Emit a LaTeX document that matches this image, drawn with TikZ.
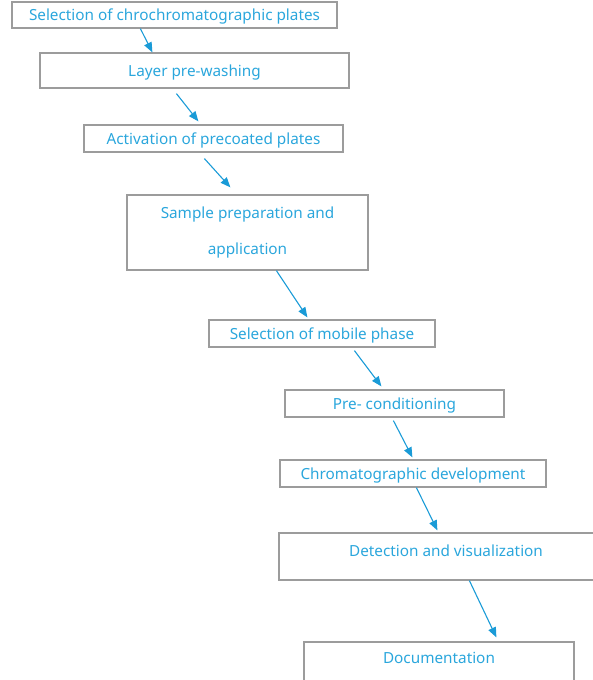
\documentclass[tikz,border=0pt]{standalone}
\usepackage{fontspec}
\setmainfont{Noto Sans}
\usetikzlibrary{arrows.meta,positioning}
\definecolor{txtblue}{HTML}{2AA6DC}
\definecolor{arrblue}{HTML}{1A9BD7}
\definecolor{boxgray}{HTML}{9C9C9C}
\tikzset{
    stepbox/.style={draw=boxgray, line width=1.2pt, inner sep=0pt, text=txtblue, font=\fontsize{15.3}{17}\selectfont},
    oneline/.style={text height=13.5pt, text depth=2pt},
    lbl/.style={inner sep=0pt, text=txtblue, font=\fontsize{15.3}{17}\selectfont},
    arr/.style={draw=arrblue, line width=1.1pt, -{Triangle[length=10pt,width=8pt]}}
}
\begin{document}
\begin{tikzpicture}[x=1pt,y=-1pt]
    \useasboundingbox (0,0) rectangle (593,680);
    \clip (0,0) rectangle (593,680);
    % boxes
    \node[stepbox, oneline, minimum width=325pt, minimum height=26pt] (b1) at (174.5,15) {Selection of chrochromatographic plates};
    \node[stepbox, oneline, minimum width=309pt, minimum height=35pt] (b2) at (194.5,70.5) {Layer pre-washing};
    \node[stepbox, oneline, minimum width=259pt, minimum height=27pt] (b3) at (213.5,138.5) {Activation of precoated plates};
    \node[stepbox, minimum width=241pt, minimum height=75pt, align=center] (b4) at (247.5,232.5) {Sample preparation and\\[19pt]application};
    \node[stepbox, oneline, minimum width=226pt, minimum height=27pt] (b5) at (322,333.5) {Selection of mobile phase};
    \node[stepbox, oneline, minimum width=219pt, minimum height=27pt] (b6) at (394.5,403.5) {Pre- conditioning};
    \node[stepbox, oneline, minimum width=266pt, minimum height=27pt] (b7) at (413,473.5) {Chromatographic development};
    \node[stepbox, minimum width=334pt, minimum height=47pt] (b8) at (446,556.5) {};
    \node[lbl] (t8) at ([yshift=-18pt]b8.north) {Detection and visualization};
    \node[stepbox, minimum width=270pt, minimum height=60pt] (b9) at (439,672) {};
    \node[lbl] (t9) at ([yshift=-17pt]b9.north) {Documentation};
    % arrows
    \draw[arr] ([xshift=129pt]b1.south west) -- ([xshift=113pt]b2.north west);
    \draw[arr] ([xshift=137pt,yshift=-5pt]b2.south west) -- ([xshift=115pt,yshift=3pt]b3.north west);
    \draw[arr] ([xshift=121pt,yshift=-6pt]b3.south west) -- ([xshift=104pt,yshift=7pt]b4.north west);
    \draw[arr] ([xshift=150pt]b4.south west) -- ([xshift=99pt,yshift=2pt]b5.north west);
    \draw[arr] ([xshift=146pt,yshift=-3pt]b5.south west) -- ([xshift=97pt,yshift=3pt]b6.north west);
    \draw[arr] ([xshift=109pt,yshift=-3pt]b6.south west) -- ([xshift=133pt,yshift=2pt]b7.north west);
    \draw[arr] ([xshift=137pt]b7.south west) -- ([xshift=159pt,yshift=2pt]b8.north west);
    \draw[arr] ([xshift=191pt]b8.south west) -- ([xshift=193pt,yshift=4pt]b9.north west);
\end{tikzpicture}
\end{document}
